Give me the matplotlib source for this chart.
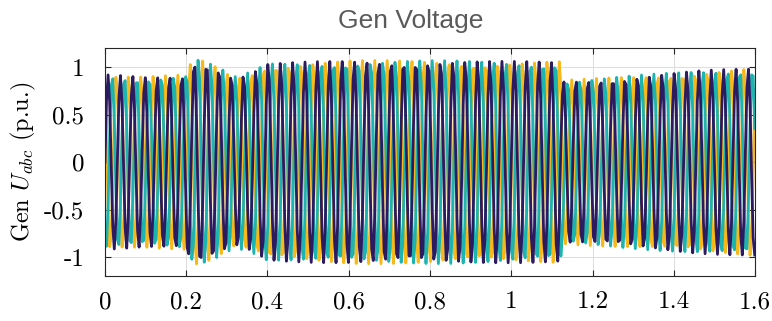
import numpy as np
import matplotlib
matplotlib.use("Agg")
import matplotlib.pyplot as plt

plt.rcParams["mathtext.fontset"] = "cm"
plt.rcParams["axes.unicode_minus"] = False

# ---- data ----
title = "Gen Voltage"
ylabel = r"Gen $U_{abc}$ (p.u.)"
x_ticks = [0, 0.2, 0.4, 0.6, 0.8, 1.0, 1.2, 1.4, 1.6]
x_tick_labels = ["0", "0.2", "0.4", "0.6", "0.8", "1", "1.2", "1.4", "1.6"]
y_ticks = [-1, -0.5, 0, 0.5, 1]
y_tick_labels = ["-1", "-0.5", "0", "0.5", "1"]

# envelope (peak amplitude, p.u.) read at time points (s)
env_t   = [0.00, 0.10, 0.199, 0.20, 0.23, 0.27, 0.32, 0.36, 0.40, 0.60, 0.80, 1.00, 1.122, 1.124, 1.20, 1.30, 1.45, 1.60]
env_amp = [0.92, 0.90, 0.92, 1.00, 1.09, 1.02, 0.90, 0.95, 1.04, 1.07, 1.07, 1.06, 1.06, 0.86, 0.88, 0.91, 0.96, 0.99]
freq_hz = 33.0          # apparent oscillation frequency in the picture
sample_hz = 262.0       # coarse sampling, gives the jagged peaks
phase_deg = [0, -120, 120]   # a, b, c
phase_colors = ["#2D1B5F", "#1DB3AE", "#F6B81A"]
draw_order = [2, 1, 0]

t = np.arange(0, 1.6 + 1e-9, 1.0 / sample_hz)
env = np.interp(t, env_t, env_amp)

fig = plt.figure(figsize=(7.72, 3.21), dpi=100)
ax = fig.add_axes([0.1360, 0.140, 0.8420, 0.710])

for i in draw_order:
    y = env * np.sin(2 * np.pi * freq_hz * t + np.deg2rad(phase_deg[i]))
    ax.plot(t, y, color=phase_colors[i], lw=2.0)

ax.set_xlim(0, 1.6)
ax.set_ylim(-1.2, 1.2)
ax.set_xticks(x_ticks)
ax.set_yticks(y_ticks)
ax.set_xticklabels(x_tick_labels, fontfamily="cmr10", fontsize=18)
ax.set_yticklabels(y_tick_labels, fontfamily="cmr10", fontsize=18)
ax.tick_params(axis="x", pad=11)
ax.tick_params(axis="y", pad=15)
ax.tick_params(direction="in", top=True, right=True, length=4, width=0.8,
               color="#262626")
ax.grid(True, color="#DCDCDC", lw=0.7)
ax.set_axisbelow(True)
for s in ax.spines.values():
    s.set_color("#262626")
    s.set_linewidth(0.8)

ax.set_ylabel(ylabel, fontfamily="cmr10", fontsize=17.5, labelpad=4)
fig.text(0.532, 0.935, title, ha="center", va="center", fontsize=19,
         color="#5A5A5A", fontfamily="Liberation Sans")

fig.savefig("out.png", dpi=100)
